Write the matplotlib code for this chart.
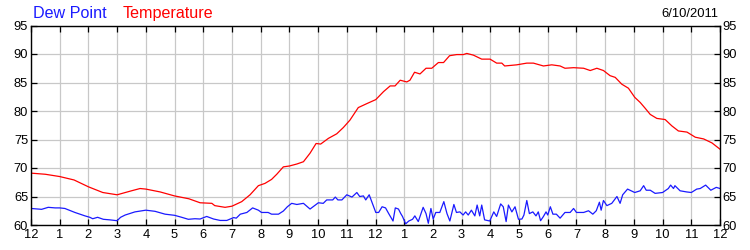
import numpy as np
import matplotlib
matplotlib.use('Agg')
import matplotlib.pyplot as plt

plt.rcParams['font.family'] = ['Liberation Sans', 'DejaVu Sans']

# hours since midnight
temp_hours = [0, 0.5, 1.0, 1.5, 2.0, 2.5, 3.0, 3.5, 3.8, 4.0, 4.5, 5.0, 5.5, 5.89,
              6.3, 6.4, 6.76, 7.0, 7.34, 7.63, 7.92, 8.15, 8.38, 8.56, 8.79, 9.0,
              9.26, 9.49, 9.72, 9.93, 10.09, 10.36, 10.65, 10.88, 11.11, 11.4, 11.7,
              12.01, 12.28, 12.51, 12.68, 12.86, 13.09, 13.2, 13.36, 13.55, 13.76,
              13.96, 14.19, 14.37, 14.58, 14.83, 15.06, 15.18, 15.41, 15.7, 15.99,
              16.22, 16.4, 16.5, 16.92, 17.27, 17.5, 17.85, 18.14, 18.43, 18.6, 18.9,
              19.25, 19.48, 19.71, 19.94, 20.17, 20.35, 20.58, 20.81, 21.03, 21.22,
              21.39, 21.57, 21.8, 22.09, 22.32, 22.55, 22.85, 23.14, 23.43, 23.72, 24.0]
temp_vals = [69.1, 68.9, 68.5, 67.9, 66.7, 65.7, 65.3, 66.0, 66.4, 66.3, 65.8, 65.1, 64.6, 63.9,
             63.8, 63.4, 63.1, 63.3, 64.1, 65.3, 66.9, 67.3, 68.0, 68.9, 70.2, 70.35,
             70.7, 71.1, 72.6, 74.3, 74.2, 75.2, 76.0, 77.1, 78.4, 80.6, 81.3,
             82.0, 83.4, 84.4, 84.4, 85.4, 85.1, 85.4, 86.8, 86.5, 87.5,
             87.5, 88.5, 88.5, 89.7, 89.9, 89.9, 90.1, 89.8, 89.1, 89.1,
             88.4, 88.4, 87.9, 88.1, 88.4, 88.4, 87.9, 88.1, 87.9, 87.5, 87.6,
             87.5, 87.1, 87.5, 87.1, 86.2, 85.9, 84.7, 84.0, 82.4, 81.5,
             80.5, 79.4, 78.7, 78.5, 77.4, 76.5, 76.3, 75.4, 75.1, 74.4, 73.3]

dew_hours = [0, 0.37, 0.6, 0.84, 1.0, 1.18, 1.53, 1.88, 2.05, 2.15, 2.32, 2.52, 2.75, 3.0,
             3.12, 3.28, 3.62, 4.0, 4.32, 4.67, 5.0, 5.25, 5.48, 5.71, 5.89, 6.12, 6.36,
             6.59, 6.82, 7.06, 7.15, 7.29, 7.52, 7.72, 7.92, 8.03, 8.26, 8.38, 8.62, 8.79,
             8.93, 9.08, 9.26, 9.49, 9.72, 10.01, 10.18, 10.3, 10.51, 10.6, 10.69, 10.83,
             11.0, 11.18, 11.35, 11.45, 11.58, 11.66, 11.78, 11.87, 12.01, 12.11, 12.23,
             12.35, 12.46, 12.61, 12.69, 12.8, 12.88, 12.94, 13.05, 13.16, 13.29, 13.37,
             13.49, 13.66, 13.76, 13.84, 13.93, 14.01, 14.1, 14.24, 14.38, 14.49, 14.59,
             14.73, 14.82, 14.94, 15.05, 15.14, 15.23, 15.34, 15.46, 15.54, 15.63, 15.7,
             15.8, 15.98, 16.12, 16.22, 16.36, 16.45, 16.55, 16.63, 16.75, 16.86, 16.98,
             17.1, 17.17, 17.27, 17.36, 17.48, 17.59, 17.67, 17.75, 17.85, 17.94, 18.0,
             18.09, 18.18, 18.3, 18.43, 18.6, 18.78, 18.9, 19.0, 19.25, 19.42, 19.57,
             19.69, 19.8, 19.86, 19.94, 20.06, 20.23, 20.41, 20.52, 20.61, 20.78, 21.03,
             21.22, 21.34, 21.43, 21.57, 21.74, 22.0, 22.2, 22.28, 22.38, 22.43, 22.61,
             22.84, 23.0, 23.19, 23.31, 23.5, 23.68, 23.87, 24.0]
dew_vals = [62.9, 62.75, 63.1, 63.0, 63.0, 62.9, 62.2, 61.6, 61.35, 61.1, 61.35, 61.0, 60.9, 60.75,
            61.35, 61.75, 62.3, 62.6, 62.4, 61.9, 61.7, 61.35, 61.0, 61.1, 61.05, 61.5, 61.05,
            60.8, 60.8, 61.3, 61.2, 61.9, 62.2, 63.0, 62.6, 62.2, 62.2, 61.9, 61.9, 62.45,
            63.2, 63.8, 63.6, 63.8, 62.8, 63.9, 63.8, 64.4, 64.4, 64.9, 64.4, 64.4,
            65.3, 64.9, 65.7, 65.0, 65.1, 64.4, 65.3, 64.1, 62.2, 62.2, 63.2,
            63.0, 62.0, 60.7, 63.0, 62.8, 62.0, 61.5, 60.2, 60.7, 61.0, 61.6,
            60.6, 63.1, 62.0, 60.3, 62.9, 61.05, 62.2, 62.2, 64.1, 62.0, 60.7,
            63.6, 62.2, 62.3, 61.75, 62.3, 61.75, 62.6, 61.6, 63.5, 61.6, 63.5,
            60.9, 60.7, 62.3, 61.5, 63.7, 63.2, 60.6, 63.5, 62.3, 63.2, 61.0,
            61.05, 61.75, 64.3, 62.0, 62.3, 61.6, 62.3, 60.75, 61.5, 62.3, 61.75,
            63.2, 61.9, 61.9, 61.2, 62.2, 62.2, 62.9, 62.2, 62.2, 62.5, 61.9,
            62.5, 64.0, 62.6, 64.3, 63.4, 63.8, 65.0, 63.8, 65.3, 66.3, 65.7,
            66.0, 66.9, 66.1, 66.1, 65.55, 65.7, 66.4, 67.0, 66.4, 66.9, 66.0,
            65.8, 65.7, 66.3, 66.4, 67.0, 66.1, 66.6, 66.4]

hour_labels = ['12', '1', '2', '3', '4', '5', '6', '7', '8', '9', '10', '11',
               '12', '1', '2', '3', '4', '5', '6', '7', '8', '9', '10', '11', '12']
y_ticks = [60, 65, 70, 75, 80, 85, 90, 95]
date_text = '6/10/2011'

fig = plt.figure(figsize=(7.5, 2.5), dpi=100)
ax = fig.add_axes([31 / 750, 1 - 225 / 250, 689 / 750, 199.5 / 250])

ax.plot(temp_hours, temp_vals, color='#ff0000', linewidth=0.9)
ax.plot(dew_hours, dew_vals, color='#1a1aff', linewidth=0.9)

ax.set_xlim(0, 24)
ax.set_ylim(60, 95)
ax.set_xticks(range(25))
ax.set_xticklabels(hour_labels)
ax.set_yticks(y_ticks)
ax.grid(True, color='#c8c8c8', linewidth=0.9)
ax.set_axisbelow(True)
ax.tick_params(direction='in', length=4, width=0.9, top=True, right=True,
               labelright=True, labelsize=9.3, pad=2, colors='black')
ax.tick_params(axis='x', pad=3)
for s in ax.spines.values():
    s.set_linewidth(1.0)

fig.text(33 / 750, 1 - 18 / 250, 'Dew Point', color='#1a1aff', fontsize=11.6)
fig.text(123 / 750, 1 - 18 / 250, 'Temperature', color='#ff0000', fontsize=11.6)
fig.text(718 / 750, 1 - 17 / 250, date_text, color='black', fontsize=9.4, ha='right')

fig.savefig('out.png', dpi=100)
